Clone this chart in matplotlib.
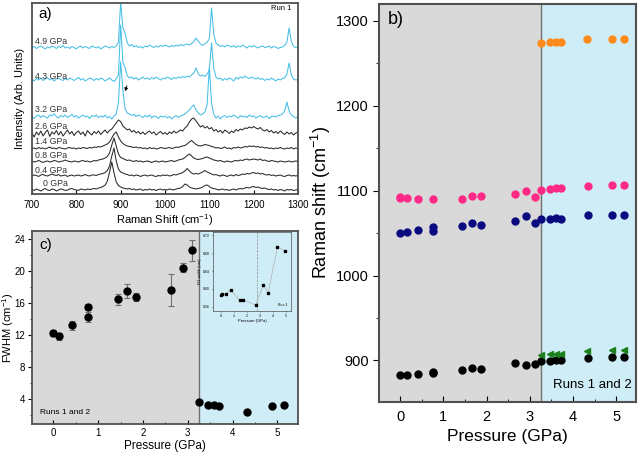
import numpy as np
import matplotlib
matplotlib.use('Agg')
import matplotlib.pyplot as plt
from matplotlib.ticker import MultipleLocator

plt.rcParams['font.family'] = ['Liberation Sans', 'DejaVu Sans']
plt.rcParams['mathtext.fontset'] = 'custom'
plt.rcParams['mathtext.rm'] = 'Liberation Sans'
plt.rcParams['mathtext.it'] = 'Liberation Sans:italic'

# ---- panel a: Raman spectra (intensity above each baseline, arb. units) ----
shift = np.arange(700, 1301, 5)  # cm-1 sampling of the spectra

spec_labels = ['0 GPa', '0.4 GPa', '0.8 GPa', '1.4 GPa', '2.6 GPa', '3.2 GPa', '4.3 GPa', '4.9 GPa']

i_00 = [0.5, -0.5, 1.0, 0.0, -1.0, 0.5, 1.5, 0.0, -0.5, 1.0, 0.5, -1.0, 0.0, 1.0, 0.5, -0.5, 0.0, 1.0, 1.5, 0.5,
        0.0, -0.5, 1.0, 0.5, 0.0, 1.0, 0.5, 1.0, 1.5, 1.0, 2.0, 2.5, 3.5, 5.0, 9.0, 18.0, 28.0, 17.0, 8.0, 4.5,
        3.0, 2.0, 1.5, 1.0, 1.5, 0.5, 1.0, 0.0, 0.5, 1.0, -0.5, 0.5, 0.0, 1.0, 0.0, 0.5, -0.5, 0.5, 1.0, 0.0,
        0.5, 0.0, 1.0, 0.5, 0.0, 1.0, 1.5, 2.0, 3.5, 6.0, 5.0, 3.0, 2.0, 1.5, 1.0, 1.5, 2.0, 3.0, 4.5, 5.0,
        3.5, 2.0, 1.5, 1.0, 0.0, 0.5, 1.0, 0.0, 0.5, -0.5, 0.5, 1.0, 0.0, 1.0, 1.5, 1.0, 2.0, 2.5, 2.0, 3.0,
        3.5, 2.5, 3.0, 2.0, 1.5, 2.0, 1.0, 0.5, 1.0, 0.0, 0.5, -0.5, 0.5, 0.0, -1.0, 0.5, 0.0, 0.5, -0.5, 0.0,
        0.5]
i_04 = [0.0, 1.0, 0.5, -0.5, 1.0, 1.5, 0.5, 0.0, 1.0, 2.0, 1.0, 0.5, 1.5, 0.0, 0.5, 1.0, -0.5, 0.5, 1.0, 0.0,
        0.5, 1.0, 0.0, 0.5, 1.5, 0.5, 0.0, 1.0, 1.0, 0.5, 1.5, 2.0, 2.5, 3.5, 5.5, 10.0, 20.0, 28.0, 15.0, 7.0,
        4.0, 3.0, 2.0, 1.5, 0.5, 1.0, 0.0, 1.0, 0.5, -0.5, 0.5, 1.0, 0.0, 0.5, 1.0, 0.0, -0.5, 0.5, 0.0, 1.0,
        0.5, 1.0, 0.0, 0.5, 1.5, 1.0, 2.0, 2.5, 3.5, 5.0, 7.5, 5.0, 3.0, 2.0, 2.5, 2.0, 3.0, 4.0, 5.5, 4.0,
        3.0, 2.0, 1.0, 1.5, 0.5, 0.0, 1.0, 0.5, -0.5, 0.5, 1.0, 0.0, 1.5, 0.5, 1.0, 2.0, 1.5, 2.5, 2.0, 3.0,
        3.5, 2.5, 3.0, 2.0, 2.5, 1.5, 1.0, 1.5, 0.5, 1.0, 0.0, 0.5, 1.0, 0.0, -0.5, 0.5, 1.0, 0.0, 0.5, 0.0,
        0.5]
i_08 = [1.0, 0.0, 0.5, 1.5, 0.5, -0.5, 0.5, 1.0, 0.0, 0.5, 1.5, 1.0, 0.0, 0.5, 1.0, 2.0, 1.0, 0.5, 0.0, 1.0,
        0.5, 0.0, 1.0, 1.5, 0.5, 1.0, 0.0, 0.5, 1.5, 1.0, 2.0, 2.5, 3.0, 4.0, 5.5, 9.0, 17.0, 24.0, 16.0, 8.0,
        4.5, 3.5, 2.5, 1.5, 2.0, 1.0, 0.5, 1.5, 0.5, 1.0, 0.0, 0.5, 1.0, 0.5, -0.5, 0.5, 1.0, 0.0, 0.5, 1.0,
        0.0, 0.5, 1.0, 1.5, 0.5, 1.0, 2.0, 2.5, 3.0, 4.5, 6.5, 8.0, 6.0, 4.0, 3.0, 2.5, 3.0, 3.5, 4.5, 5.0,
        4.0, 3.0, 2.0, 1.5, 1.0, 1.5, 0.5, 0.0, 1.0, 0.5, 0.0, 1.0, 1.5, 1.0, 2.0, 1.5, 2.5, 3.0, 2.0, 2.5,
        3.0, 2.5, 2.0, 3.0, 1.5, 2.0, 1.0, 0.5, 1.5, 1.0, 0.5, 0.0, 1.0, 0.5, 0.0, 0.5, 1.0, 0.0, 0.5, 1.0,
        0.5]
i_14 = [0.5, 1.0, 0.0, 1.5, 0.5, 1.0, 0.0, 1.0, 2.0, 0.5, 1.0, 0.0, 1.5, 1.0, 0.5, 0.0, 1.0, 1.5, 0.5, 1.0,
        0.0, 1.0, 0.5, 1.5, 1.0, 0.5, 1.5, 1.0, 2.0, 1.5, 2.5, 2.0, 3.0, 4.0, 5.0, 7.0, 11.0, 15.0, 17.0, 12.0,
        8.0, 5.5, 4.0, 3.0, 2.5, 2.0, 1.5, 2.0, 1.0, 1.5, 0.5, 1.0, 0.0, 1.5, 0.5, 1.0, 0.0, 0.5, 1.5, 1.0,
        0.5, 1.0, 1.5, 0.5, 1.0, 2.0, 1.5, 2.5, 3.0, 3.5, 5.0, 7.0, 8.5, 6.5, 4.5, 3.5, 3.0, 3.5, 4.5, 4.0,
        3.5, 2.5, 2.0, 1.0, 1.5, 0.5, 1.0, 2.0, 0.5, 1.0, 0.0, 1.5, 1.0, 2.0, 1.0, 1.5, 2.5, 2.0, 3.0, 2.5,
        3.0, 2.0, 2.5, 1.5, 2.0, 1.0, 1.5, 0.5, 1.0, 0.0, 1.0, 0.5, 1.5, 0.5, 0.0, 1.0, 0.5, 1.5, 0.0, 1.0,
        0.5]
i_26 = [2.0, -2.0, 3.0, 0.0, 4.0, -1.0, 2.5, 5.0, -1.5, 3.0, 1.0, 4.5, 0.0, 3.5, -1.0, 2.0, 5.0, 1.0, 3.5, -0.5,
        2.5, 4.0, 0.5, 3.0, -1.0, 4.5, 2.0, 0.0, 3.5, 1.5, 4.0, 0.5, 3.0, 5.0, 2.0, 4.5, 6.0, 9.0, 12.0, 15.0,
        13.5, 9.0, 7.0, 5.0, 6.0, 3.0, 4.5, 2.0, 3.5, 1.0, 3.0, 0.5, 2.5, 4.0, 1.5, 3.0, 0.0, 2.0, 3.5, 1.0,
        2.5, 0.5, 3.0, 1.5, 4.0, 2.0, 3.5, 5.0, 4.0, 7.0, 9.0, 13.0, 16.0, 17.0, 14.0, 11.0, 8.0, 9.5, 7.0, 8.5,
        6.0, 7.5, 4.0, 5.5, 3.0, 4.5, 2.0, 5.0, 3.5, 1.5, 4.0, 2.5, 5.5, 4.0, 6.0, 5.0, 7.0, 6.5, 8.0, 7.0,
        8.5, 7.0, 6.0, 7.5, 5.0, 4.0, 5.5, 3.0, 4.5, 2.0, 3.5, 1.5, 4.0, 2.0, 0.5, 3.0, 1.0, 2.5, 0.0, 2.0,
        3.0]
i_32 = [0.5, -1.5, 1.0, 2.0, -0.5, 1.5, 0.0, -1.0, 2.0, 1.0, 3.0, 0.5, -1.0, 1.5, 0.0, 2.0, -0.5, 1.0, 2.5, 0.0,
        1.5, -1.0, 0.5, 2.0, 0.0, 1.0, -1.5, 1.5, 0.5, 2.0, -0.5, 1.0, 0.0, 2.0, -1.0, 0.5, -2.0, 1.0, 3.0, 14.0,
        55.0, 27.0, 8.0, 4.0, 3.0, 1.5, 2.5, 0.5, 2.0, 1.0, -0.5, 1.5, 0.0, 2.0, -1.0, 1.0, 0.5, -1.5, 1.0, 0.0,
        1.0, -1.0, 0.5, -2.0, 0.0, 1.5, -0.5, 1.0, 2.0, 3.0, 5.0, 7.0, 10.0, 12.0, 7.0, 4.0, 2.0, 3.0, 5.0, 12.0,
        50.0, 14.0, 3.0, -1.0, 1.0, -2.0, 0.5, 1.5, -0.5, 1.0, 0.0, 2.0, 0.5, -1.0, 1.5, 0.0, 1.0, -0.5, 2.0, 0.5,
        1.0, -1.0, 0.5, 1.5, -0.5, 0.0, 1.0, -1.5, 0.5, 1.0, 0.0, 1.5, 2.0, 3.0, 6.0, 15.0, 6.0, 2.0, 0.5, -1.0,
        0.5]
i_43 = [0.5, -1.0, 1.5, 0.0, 2.0, -0.5, 1.0, 2.5, 0.0, 1.5, -1.0, 1.0, 2.0, 0.5, -0.5, 1.5, 0.0, 2.0, 1.0, -0.5,
        1.0, 2.5, 0.0, 1.5, -1.0, 0.5, 2.0, 1.0, -0.5, 1.5, 0.0, 2.0, 1.0, -1.0, 0.5, 2.0, 0.0, -1.5, 1.0, 5.0,
        55.0, 18.0, 12.0, 4.0, 2.0, 3.0, 1.0, 2.5, 0.0, 1.5, 3.0, 1.0, 2.0, 0.5, 2.5, 1.0, 3.0, 1.5, 0.0, 2.0,
        1.0, 3.0, 2.0, 0.5, 2.5, 1.5, 3.0, 2.0, 3.5, 2.5, 4.0, 3.0, 5.0, 7.0, 12.0, 6.0, 4.0, 5.0, 3.5, 6.0,
        10.0, 37.0, 12.0, 3.0, 1.0, 2.0, -0.5, 1.5, 0.0, 2.0, 1.0, -1.0, 2.5, 1.0, 3.0, 2.0, 4.0, 2.5, 1.5, 3.0,
        2.0, 1.0, 2.5, 0.5, 1.5, -0.5, 1.0, 0.0, 2.0, 0.5, -1.0, 1.0, 0.0, 1.5, 2.0, 6.0, 17.0, 5.0, 1.0, 0.0,
        0.5]
i_49 = [0.0, 1.5, -0.5, 1.0, 2.0, 0.5, -1.0, 1.0, 0.0, 2.0, 1.0, -0.5, 1.5, 0.5, 2.5, 0.0, 1.0, -0.5, 1.5, 0.5,
        -1.0, 1.0, 2.0, 0.0, 1.5, 0.5, -0.5, 2.0, 1.0, 0.0, 1.5, -1.0, 0.5, 2.0, 1.0, 0.0, 1.5, 0.5, 2.0, 6.0,
        46.0, 20.0, 15.0, 5.0, 2.0, 3.5, 1.0, 2.5, 0.5, 1.5, 0.0, 2.0, 1.0, 3.0, 1.5, 0.5, 2.0, 1.0, 2.5, 1.5,
        3.0, 2.0, 1.0, 2.5, 1.5, 3.0, 2.0, 3.5, 2.5, 3.0, 4.0, 3.0, 4.5, 6.0, 10.0, 7.0, 4.0, 2.5, 4.0, 6.0,
        9.0, 40.0, 14.0, 5.0, 3.0, 1.5, 2.5, 1.0, 3.0, 2.0, 1.0, 2.5, 0.5, 2.0, 1.0, 3.0, 1.5, 0.0, 2.0, 1.0,
        2.5, 1.0, 0.0, 1.5, 2.0, 0.5, 1.0, 2.0, 0.0, 1.5, 1.0, -0.5, 0.5, 1.0, 2.5, 6.0, 20.0, 7.0, 1.5, 0.5,
        1.0]

# ---- panel b: Raman shift vs pressure ----
p_main = [0, 0.15, 0.42, 0.77, 0.77, 1.435, 1.66, 1.86, 2.65, 2.92, 3.12, 3.26, 3.47, 3.60, 3.72, 4.34, 4.91, 5.17]
shift_black = [882.3, 883.0, 884.2, 885.9, 885.2, 888.2, 890.6, 889.8, 896.5, 894.8, 896.0,
               899.2, 899.5, 900.0, 900.0, 902.3, 903.5, 903.5]
shift_navy = [1049.6, 1050.8, 1053.5, 1057.0, 1052.7, 1058.5, 1061.7, 1059.0, 1064.4, 1070.3, 1062.1,
              1066.1, 1066.4, 1068.0, 1066.8, 1071.5, 1071.5, 1071.1]
p_pink = [0, 0, 0.15, 0.42, 0.77, 1.435, 1.66, 1.86, 2.65, 2.92, 3.12, 3.26, 3.47, 3.60, 3.72, 4.34, 4.91, 5.17]
shift_pink = [1092.7, 1091.5, 1091.5, 1090.0, 1090.4, 1090.0, 1093.2, 1093.2, 1096.7, 1099.8, 1092.0,
              1101.4, 1102.1, 1102.6, 1102.6, 1106.1, 1107.3, 1107.3]
p_high = [3.25, 3.47, 3.60, 3.72, 4.33, 4.91, 5.17]
shift_green = [905.9, 907.0, 907.4, 907.8, 911.0, 912.5, 912.5]
shift_orange = [1274.5, 1274.9, 1275.3, 1275.7, 1278.4, 1278.8, 1279.3]

# ---- panel c: FWHM vs pressure ----
p_fwhm = [0, 0.13, 0.41, 0.76, 0.76, 1.43, 1.645, 1.85, 2.63, 2.9, 3.1,
          3.245, 3.46, 3.58, 3.70, 4.32, 4.875, 5.14]
fwhm = [12.24, 11.87, 13.24, 15.52, 14.27, 16.48, 17.48, 16.77, 17.68, 20.43, 22.59,
        3.64, 3.3, 3.3, 3.18, 2.43, 3.16, 3.3]
fwhm_err = [0.35, 0.45, 0.55, 0.35, 0.6, 0.7, 0.9, 0.45, 2.0, 0.6, 1.3,
            0, 0, 0, 0, 0, 0, 0]

# inset: R1 width, run 1
p_r1 = [0, 0.13, 0.41, 0.75, 1.44, 1.67, 2.69, 3.28, 3.64, 4.36, 4.92]
r1_width = [0.587, 0.588, 0.589, 0.598, 0.575, 0.576, 0.564, 0.610, 0.591, 0.694, 0.685]

transition = 3.25
gray_bg = '#d9d9d9'
blue_bg = '#cfedf7'
frame_col = '#505050'


def style_frame(ax, lw=1.3):
    for s in ax.spines.values():
        s.set_color(frame_col)
        s.set_linewidth(lw)


fig = plt.figure(figsize=(6.4, 4.54), dpi=100)

# ---------- a) ----------
axa = fig.add_axes([0.05, 0.5727, 0.4156, 0.4207])
offsets = [4, 18, 32, 45, 59, 77, 114, 146]
spectra = [i_00, i_04, i_08, i_14, i_26, i_32, i_43, i_49]
label_x = [725, 707, 707, 707, 707, 707, 707, 707]
label_y = [10, 23, 38, 52, 67, 84, 117, 152]
for k, sp in enumerate(spectra):
    col = '#47bfe6' if k >= 5 else '#2a2a2a'
    axa.plot(shift, np.array(sp) + offsets[k], color=col, lw=0.75)
    axa.text(label_x[k], label_y[k], spec_labels[k], fontsize=6.3, color='#333333', va='center')
axa.annotate('', xy=(908, 100), xytext=(916, 111),
             arrowprops=dict(arrowstyle='-|>', color='black', lw=0.6, mutation_scale=5))
axa.set_xlim(700, 1300)
axa.set_ylim(0, 191)
axa.set_yticks([])
axa.xaxis.set_major_locator(MultipleLocator(100))
axa.tick_params(axis='x', direction='in', labelsize=7, length=3, pad=4)
axa.set_xlabel('Raman Shift (cm$^{-1}$)', fontsize=8, labelpad=2)
axa.set_ylabel('Intensity (Arb. Units)', fontsize=8, labelpad=5)
axa.text(0.023, 0.94, 'a)', transform=axa.transAxes, fontsize=11, va='center')
axa.text(0.976, 0.97, 'Run 1', transform=axa.transAxes, fontsize=5.5, ha='right', va='center')
style_frame(axa)

# ---------- c) ----------
axc = fig.add_axes([0.05, 0.0661, 0.4156, 0.4251])
axc.axvspan(-0.5, transition, color=gray_bg, lw=0, zorder=0)
axc.axvspan(transition, 5.46, color=blue_bg, lw=0, zorder=0)
axc.axvline(transition, color='#707070', lw=1, zorder=1)
axc.errorbar(p_fwhm, fwhm, yerr=fwhm_err, fmt='o', color='black', ms=5,
             ecolor='#707070', elinewidth=0.8, capsize=2, capthick=0.8, zorder=3)
axc.set_xlim(-0.48, 5.46)
axc.set_ylim(0.9, 25)
axc.xaxis.set_major_locator(MultipleLocator(1))
axc.xaxis.set_minor_locator(MultipleLocator(0.5))
axc.yaxis.set_major_locator(MultipleLocator(4))
axc.yaxis.set_minor_locator(MultipleLocator(2))
axc.tick_params(axis='x', which='both', direction='in', labelsize=7, pad=3)
axc.tick_params(axis='y', which='both', direction='out', labelsize=7, pad=2)
axc.tick_params(which='major', length=3)
axc.tick_params(which='minor', length=1.5)
axc.set_xlabel('Pressure (GPa)', fontsize=8.5, labelpad=1)
axc.set_ylabel('FWHM (cm$^{-1}$)', fontsize=8)
axc.yaxis.set_label_coords(-0.062, 0.5)
axc.text(0.026, 0.93, 'c)', transform=axc.transAxes, fontsize=11, va='center')
axc.text(0.03, 0.06, 'Runs 1 and 2', transform=axc.transAxes, fontsize=6, va='center')
style_frame(axc)

# inset
axi = fig.add_axes([0.3328, 0.315, 0.1219, 0.174])
axi.patch.set_alpha(0)
axi.axvline(2.75, color='#909090', lw=0.5, ls='--')
axi.plot(p_r1, r1_width, '-', color='#b0b0b0', lw=0.5)
axi.plot(p_r1, r1_width, 's', color='black', ms=1.6)
axi.set_xlim(-0.6, 5.4)
axi.set_ylim(0.551, 0.727)
axi.xaxis.set_major_locator(MultipleLocator(1))
axi.set_yticks([0.56, 0.60, 0.64, 0.68, 0.72])
axi.tick_params(labelsize=2.5, length=1, width=0.4, pad=1)
axi.set_xlabel('Pressure (GPa)', fontsize=3, labelpad=1)
axi.set_ylabel('R1 width (nm)', fontsize=3, labelpad=1)
axi.text(0.95, 0.06, 'Run 1', transform=axi.transAxes, fontsize=2.5, ha='right')
style_frame(axi, lw=0.5)

# ---------- b) ----------
axb = fig.add_axes([0.5922, 0.1145, 0.4016, 0.8767])
axb.axvspan(-0.5, transition, color=gray_bg, lw=0, zorder=0)
axb.axvspan(transition, 5.5, color=blue_bg, lw=0, zorder=0)
axb.axvline(transition, color='#707070', lw=1, zorder=1)
axb.plot(p_main, shift_black, 'o', color='black', ms=5, zorder=3)
axb.plot(p_main, shift_navy, 'o', color='#0a0a80', ms=5, zorder=3)
axb.plot(p_pink, shift_pink, 'o', color='#ff2a86', ms=5, zorder=3)
axb.plot(p_high, shift_green, '<', color='#1b7f1b', ms=5, zorder=3)
axb.plot(p_high, shift_orange, 'o', color='#ff8a1c', ms=5, zorder=3)
axb.set_xlim(-0.49, 5.46)
axb.set_ylim(851, 1320)
axb.xaxis.set_major_locator(MultipleLocator(1))
axb.xaxis.set_minor_locator(MultipleLocator(0.5))
axb.yaxis.set_major_locator(MultipleLocator(100))
axb.yaxis.set_minor_locator(MultipleLocator(50))
axb.tick_params(axis='x', which='both', direction='in', labelsize=10.5, pad=6)
axb.tick_params(axis='y', which='both', direction='out', labelsize=10.5)
axb.tick_params(which='major', length=4)
axb.tick_params(which='minor', length=2)
axb.set_xlabel('Pressure (GPa)', fontsize=12.5, labelpad=3)
axb.set_ylabel('Raman shift (cm$^{-1}$)', fontsize=13, labelpad=2)
axb.text(0.035, 0.96, 'b)', transform=axb.transAxes, fontsize=13, va='center')
axb.text(0.984, 0.043, 'Runs 1 and 2', transform=axb.transAxes, fontsize=9.5, ha='right', va='center')
style_frame(axb, lw=1.5)

fig.savefig('out.png', dpi=100)
